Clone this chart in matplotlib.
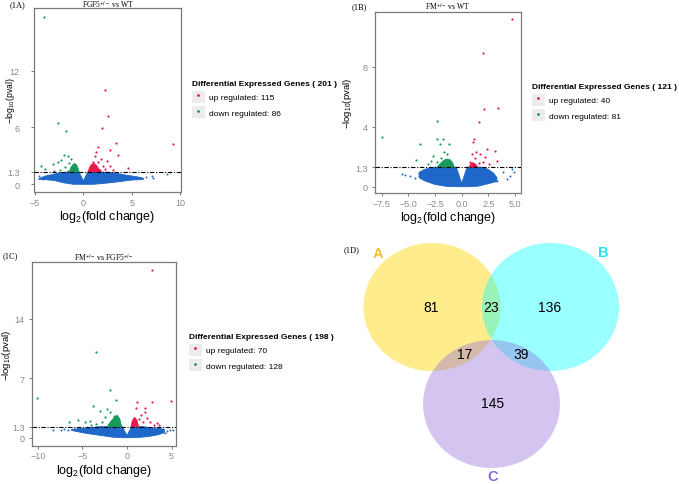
import matplotlib
matplotlib.use('Agg')
import matplotlib.pyplot as plt
from matplotlib.patches import Ellipse, Patch
from matplotlib.lines import Line2D

plt.rcParams['font.family'] = 'Liberation Sans'
plt.rcParams['mathtext.fontset'] = 'custom'
plt.rcParams['mathtext.rm'] = 'Liberation Sans'
plt.rcParams['mathtext.it'] = 'Liberation Sans:italic'

BLUE = '#1f67c9'
RED = '#e8194d'
GREEN = '#189a5c'
GREY = '#8a8a8a'

# ---- panel A: FGF5+/- vs WT ----
a_red_x = [2.25, 2.53, 1.9, 3.37, 9.3, 1.49, 1.35, 2.8, 3.6, 1.2, 1.87,
           2.46, 1.0, 2.74, 2.04, 4.6, 1.55, 2.2, 3.1, 1.7]
a_red_y = [9.96, 7.2, 5.9, 4.4, 4.3, 3.9, 3.4, 3.6, 3.1, 3.0, 2.66,
           2.5, 2.4, 1.96, 1.9, 1.75, 2.3, 1.6, 1.55, 1.5]
a_green_x = [-4.1, -2.57, -1.8, -1.95, -1.6, -2.3, -2.64, -1.3, -3.17,
             -1.45, -4.38, -3.93, -1.9, -2.4, -1.6, -3.0]
a_green_y = [17.6, 6.5, 5.6, 3.1, 2.95, 2.6, 2.3, 2.7, 2.14,
             2.2, 1.96, 1.6, 1.8, 1.5, 1.45, 1.4]
a_blue_x = [5.86, 7.08, 7.2, 8.64, 9.0, -4.2, -4.6, 6.5]
a_blue_y = [0.7, 0.84, 0.7, 1.05, 1.26, 0.56, 0.9, 0.75]
a_cloud_top_x = [-4.6, -4.0, -3.0, -2.2, -1.5, -0.45, 0.0, 0.45, 1.5, 2.5,
                 3.5, 4.5, 5.5, 6.2]
a_cloud_top_y = [0.6, 0.85, 1.08, 1.25, 1.3, 1.3, 0.35, 1.3, 1.3, 1.28,
                 1.15, 0.95, 0.8, 0.65]
a_cloud_bot_x = [6.2, 5.0, 3.5, 2.0, 1.0, -1.0, -2.0, -3.0, -4.0, -4.6]
a_cloud_bot_y = [0.5, 0.45, 0.25, 0.08, 0.0, 0.0, 0.15, 0.4, 0.5, 0.5]
a_gclust_x = [-1.45, -1.3, -1.1, -0.9, -0.7, -0.55, -0.45]
a_gclust_y = [1.3, 1.75, 2.05, 2.2, 2.05, 1.7, 1.3]
a_rclust_x = [0.5, 0.65, 0.85, 1.1, 1.35, 1.6, 1.8]
a_rclust_y = [1.3, 1.8, 2.1, 2.2, 2.0, 1.65, 1.3]

# ---- panel B: FM+/- vs WT ----
b_red_x = [4.69, 1.97, 2.06, 3.43, 1.59, 1.15, 1.05, 0.94, 1.34, 1.71,
           2.34, 2.18, 3.12, 3.34, 1.6, 0.78, 2.0, 1.2, 2.6]
b_red_y = [11.2, 8.9, 5.18, 5.25, 4.29, 3.18, 3.0, 2.18, 2.29, 2.18,
           2.51, 1.96, 2.4, 1.73, 1.6, 1.62, 1.66, 1.9, 1.5]
b_green_x = [-2.34, -7.5, -3.9, -2.34, -1.78, -2.03, -1.16, -2.66, -1.41,
             -4.28, -3.13, -2.34, -1.9, -2.9, -1.7]
b_green_y = [4.36, 3.3, 2.85, 3.18, 3.18, 2.85, 2.85, 2.07, 2.18,
             1.8, 1.51, 1.62, 1.9, 1.7, 2.3]
b_blue_x = [-5.62, -5.3, -4.85, -4.38, -3.9, 4.22, 4.5, 4.87, 3.84, 3.28,
            4.69]
b_blue_y = [0.85, 0.77, 0.69, 0.6, 0.96, 0.51, 0.69, 1.0, 0.96, 0.4, 1.18]
b_cloud_top_x = [-4.0, -3.5, -3.0, -2.5, -0.5, 0.0, 0.5, 2.0, 2.5, 3.0, 3.3]
b_cloud_top_y = [0.95, 1.15, 1.25, 1.3, 1.3, 0.22, 1.3, 1.3, 1.15, 0.9, 0.6]
b_cloud_bot_x = [3.3, 2.5, 1.5, 0.5, -0.5, -1.5, -2.5, -3.5, -4.0]
b_cloud_bot_y = [0.35, 0.2, 0.03, 0.0, 0.0, 0.03, 0.15, 0.4, 0.6]
b_gclust_x = [-2.3, -2.0, -1.7, -1.4, -1.1, -0.85, -0.7]
b_gclust_y = [1.3, 1.55, 1.75, 1.85, 1.8, 1.6, 1.3]
b_rclust_x = [0.7, 0.85, 1.05, 1.3, 1.5]
b_rclust_y = [1.3, 1.55, 1.6, 1.5, 1.3]

# ---- panel C: FM+/- vs FGF5+/- ----
c_red_x = [2.77, 4.89, 2.76, 1.16, 1.98, 1.0, 2.05, 1.6, 2.2, 2.55, 3.32,
           3.6, 1.8, 3.0, 1.3]
c_red_y = [19.8, 4.28, 4.2, 4.17, 3.5, 3.46, 3.0, 2.7, 2.28, 1.8, 1.73,
           1.5, 1.8, 1.45, 2.2]
c_green_x = [-3.47, -10.04, -1.9, -1.2, -3.77, -3.02, -2.27, -1.9, -5.45,
             -4.7, -4.1, -2.45, -1.5, -6.46, -3.5, -2.8, -4.0]
c_green_y = [10.06, 4.64, 5.6, 4.48, 3.77, 3.18, 3.38, 3.0, 2.12,
             1.89, 2.0, 2.4, 2.5, 1.89, 1.6, 1.9, 1.45]
c_blue_x = [-8.25, -7.4, -7.0, -6.6, 4.5, 4.8, 5.1, 4.3]
c_blue_y = [0.94, 0.9, 1.0, 0.85, 0.8, 0.9, 0.95, 0.6]
c_cloud_top_x = [-6.2, -5.0, -4.0, -3.0, -2.2, -0.5, 0.0, 0.5, 1.8, 2.5,
                 3.5, 4.2]
c_cloud_top_y = [1.0, 1.1, 1.2, 1.3, 1.3, 1.3, 0.24, 1.3, 1.3, 1.2, 1.1, 1.0]
c_cloud_bot_x = [4.2, 3.5, 2.5, 1.5, 0.5, -0.5, -1.5, -2.5, -3.5, -4.5,
                 -5.5, -6.2]
c_cloud_bot_y = [0.6, 0.35, 0.15, 0.05, 0.0, 0.0, 0.05, 0.2, 0.35, 0.5,
                 0.7, 0.85]
c_gclust_x = [-2.2, -1.9, -1.5, -1.1, -0.8, -0.6]
c_gclust_y = [1.3, 1.8, 2.3, 2.65, 2.2, 1.3]
c_rclust_x = [0.45, 0.6, 0.85, 1.1, 1.3]
c_rclust_y = [1.3, 2.0, 2.4, 2.1, 1.3]

# ---- legends ----
deg_totals = [201, 121, 198]
up_counts = [115, 40, 70]
down_counts = [86, 81, 128]

# ---- venn ----
venn_names = ['A', 'B', 'C']
venn_counts = {'A': 81, 'B': 136, 'C': 145, 'AB': 23, 'AC': 17, 'BC': 39}


def px(x, y):
    '''
    pixel position (from top left) to figure fraction
    '''
    return x / 679, 1 - y / 485


def volcano(fig, rect, pts, xlim, ylim, xticks, xlabels, yticks, yticklabels,
            ylab_x, ypad, ylab_size):
    '''
    draws one volcano plot in the given figure rectangle
    '''
    ax = fig.add_axes(rect)
    (top_x, top_y, bot_x, bot_y, blue_x, blue_y, g_x, g_y, gc_x, gc_y,
     r_x, r_y, rc_x, rc_y) = pts
    ax.fill(top_x + bot_x, top_y + bot_y, color=BLUE, lw=0.6, zorder=2)
    ax.scatter(blue_x, blue_y, s=2, color=BLUE, lw=0, zorder=2)
    ax.fill(gc_x, gc_y, color=GREEN, lw=0.6, zorder=3)
    ax.fill(rc_x, rc_y, color=RED, lw=0.6, zorder=3)
    ax.scatter(g_x, g_y, s=2.5, color=GREEN, lw=0, zorder=3)
    ax.scatter(r_x, r_y, s=2.5, color=RED, lw=0, zorder=3)
    ax.axhline(1.3, color='black', lw=0.8, dashes=(4, 1.5, 1, 1.5),
               zorder=4)
    ax.set_xlim(xlim)
    ax.set_ylim(ylim)
    ax.set_xticks(xticks)
    ax.set_xticklabels(xlabels)
    ax.set_yticks(yticks)
    ax.set_yticklabels(yticklabels)
    for s in ax.spines.values():
        s.set_color('#7a7a7a')
        s.set_linewidth(0.9)
    ax.tick_params(colors='#7a7a7a', labelcolor=GREY, labelsize=6.5,
                   length=2.5, width=0.7, pad=1.5)
    ax.tick_params(axis='y', pad=ypad)
    ax.set_xlabel('log$_{2}$(fold change)', fontsize=9, labelpad=1)
    ax.set_ylabel('\u2212log$_{10}$(pval)', fontsize=ylab_size)
    ax.yaxis.set_label_coords(ylab_x, 0.5)
    return ax


def add_legend(fig, ax, x, y, total, up, down):
    '''
    legend with grey key boxes and tiny dots, placed by figure pixels
    '''
    box = '#ececec'
    h = [(Patch(facecolor=box, edgecolor='none'),
          Line2D([], [], ls='', marker='o', ms=1.0, color=RED)),
         (Patch(facecolor=box, edgecolor='none'),
          Line2D([], [], ls='', marker='o', ms=1.0, color=GREEN))]
    ax.legend(h, ['up regulated: %d' % up, 'down regulated: %d' % down],
              loc='upper left', bbox_to_anchor=px(x, y),
              bbox_transform=fig.transFigure, frameon=False, fontsize=6.0,
              title='Differential Expressed Genes ( %d )' % total,
              title_fontproperties={'weight': 'bold', 'size': 6.0},
              alignment='left', handlelength=1.5, handleheight=1.8,
              handletextpad=0.5, labelspacing=0.45, borderpad=0,
              borderaxespad=0)


def venn(fig):
    '''
    three set venn diagram drawn in pixel coordinates
    '''
    ax = fig.add_axes([0, 0, 1, 1], zorder=0)
    ax.set_xlim(0, 679)
    ax.set_ylim(485, 0)
    ax.axis('off')
    centers = {'A': (432, 308), 'B': (550.5, 308), 'C': (491.5, 405)}
    fills = {'A': ('#ffd700', 0.45), 'B': ('#00ffff', 0.4),
             'C': ('#9370db', 0.4)}
    for n in venn_names:
        c, a = fills[n]
        ax.add_patch(Ellipse(centers[n], 137, 128, facecolor=c, alpha=a,
                             edgecolor='none'))
    label_pos = {'A': (378, 254), 'B': (603, 253), 'C': (493, 477)}
    label_col = {'A': '#f2c522', 'B': '#22e6f0', 'C': '#8a6ad6'}
    for n in venn_names:
        ax.text(*label_pos[n], n, color=label_col[n], fontsize=10.5,
                fontweight='bold', ha='center', va='center')
    num_pos = {'A': (431.5, 308), 'B': (550, 308), 'C': (493, 404),
               'AB': (491, 308), 'AC': (464.5, 355.5), 'BC': (521.5, 355.5)}
    for k, v in venn_counts.items():
        ax.text(*num_pos[k], str(v), fontsize=10, ha='center', va='center')
    ax.text(352, 250, '(1D)', fontsize=6, family='Liberation Serif',
            ha='center', va='center')


def main():
    fig = plt.figure(figsize=(6.79, 4.85), dpi=100)
    venn(fig)

    ax_a = volcano(fig, [0.0501, 0.6021, 0.2165, 0.3794],
                   (a_cloud_top_x, a_cloud_top_y, a_cloud_bot_x,
                    a_cloud_bot_y, a_blue_x, a_blue_y, a_green_x, a_green_y,
                    a_gclust_x, a_gclust_y, a_red_x, a_red_y, a_rclust_x,
                    a_rclust_y),
                   (-5.1, 10.1), (-0.81, 18.6), [-5, 0, 5, 10],
                   ['\u22125', '0', '5', '10'], [0, 1.3, 6, 12],
                   ['0', '1.3', '6', '12'], -0.116, 8, 6.2)
    add_legend(fig, ax_a, 192, 81, deg_totals[0], up_counts[0],
               down_counts[0])

    ax_b = volcano(fig, [0.5523, 0.6, 0.215, 0.3738],
                   (b_cloud_top_x, b_cloud_top_y, b_cloud_bot_x,
                    b_cloud_bot_y, b_blue_x, b_blue_y, b_green_x, b_green_y,
                    b_gclust_x, b_gclust_y, b_red_x, b_red_y, b_rclust_x,
                    b_rclust_y),
                   (-8.13, 5.56), (-0.42, 11.67),
                   [-7.5, -5.0, -2.5, 0.0, 2.5, 5.0],
                   ['\u22127.5', '\u22125.0', '\u22122.5', '0.0', '2.5', '5.0'],
                   [0, 1.3, 4, 8], ['0', '1.3', '4', '8'], -0.144, 3, 6.8)
    add_legend(fig, ax_b, 532, 84, deg_totals[1], up_counts[1],
               down_counts[1])

    ax_c = volcano(fig, [0.0476, 0.079, 0.2116, 0.3781],
                   (c_cloud_top_x, c_cloud_top_y, c_cloud_bot_x,
                    c_cloud_bot_y, c_blue_x, c_blue_y, c_green_x, c_green_y,
                    c_gclust_x, c_gclust_y, c_red_x, c_red_y, c_rclust_x,
                    c_rclust_y),
                   (-10.6, 5.49), (-0.94, 20.66), [-10, -5, 0, 5],
                   ['\u221210', '\u22125', '0', '5'], [0, 1.3, 7, 14],
                   ['0', '1.3', '7', '14'], -0.135, 3, 6.8)
    add_legend(fig, ax_c, 189, 334, deg_totals[2], up_counts[2],
               down_counts[2])

    serif = dict(fontsize=5.5, family='Liberation Serif', ha='center',
                 va='center')
    fig.text(*px(107.5, 5), 'FGF5$^{+/-}$ vs WT', **serif)
    fig.text(*px(448, 7.5), 'FM$^{+/-}$ vs WT', **serif)
    fig.text(*px(104, 258), 'FM$^{+/-}$ vs FGF5$^{+/-}$', **serif)

    lab = dict(fontsize=6, family='Liberation Serif', ha='left', va='center')
    fig.text(*px(10, 5), '(1A)', **lab)
    fig.text(*px(352, 7), '(1B)', **lab)
    fig.text(*px(3, 256), '(1C)', **lab)

    fig.savefig('out.png', dpi=100)


if __name__ == '__main__':
    main()
